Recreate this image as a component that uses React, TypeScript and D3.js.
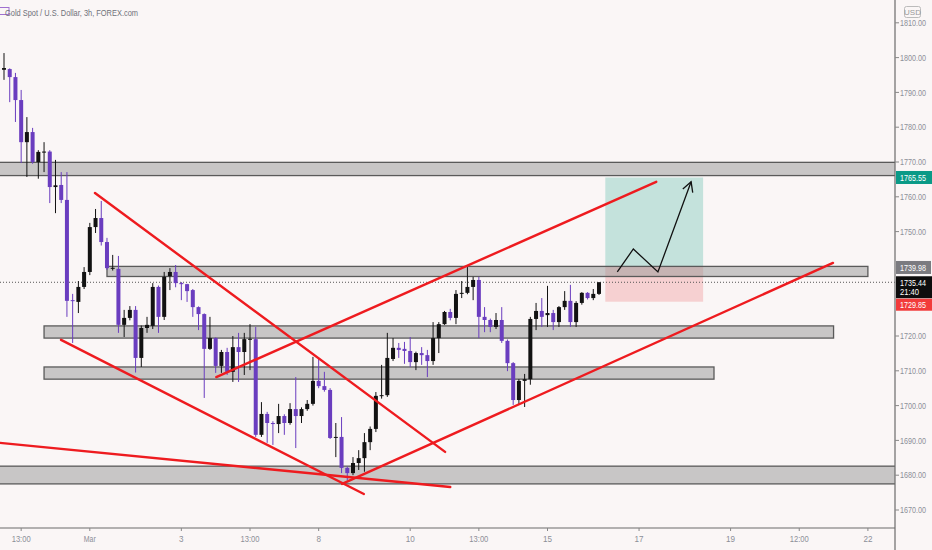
import React from "react";
import * as d3 from "d3";

const W = 932;
const H = 550;

const opens = [1796.5,1796.7,1794.4,1787.8,1775.7,1778.6,1770.0,1772.7,1773.0,1762.8,1763.4,1759.1,1730.3,1729.8,1734.1,1738.4,1751.3,1753.9,1747.0,1739.3,1739.3,1723.2,1725.2,1727.5,1713.7,1722.3,1722.9,1734.1,1725.5,1737.2,1738.4,1735.2,1734.9,1733.2,1728.3,1726.3,1716.3,1719.4,1711.4,1715.4,1709.7,1716.8,1715.4,1719.0,1719.1,1691.6,1697.6,1695.0,1694.7,1697.0,1695.0,1699.0,1697.0,1699.0,1700.5,1707.1,1705.6,1704.5,1690.8,1691.0,1682.1,1680.6,1683.5,1684.9,1689.5,1693.3,1702.8,1703.0,1713.4,1716.6,1716.3,1715.7,1712.5,1715.1,1714.5,1712.8,1719.4,1723.4,1726.9,1725.2,1732.1,1732.4,1734.1,1736.1,1725.5,1724.6,1722.6,1724.6,1718.6,1712.2,1701.6,1707.1,1707.6,1724.9,1727.2,1726.0,1726.6,1724.0,1728.3,1730.1,1724.0,1729.5,1732.4,1730.9,1732.1];
const highs = [1801.3,1796.9,1795.6,1790.7,1782.9,1779.8,1773.4,1775.7,1773.4,1770.6,1767.1,1767.1,1732.1,1735.8,1739.8,1752.5,1756.5,1758.8,1748.2,1743.3,1743.0,1727.5,1728.6,1728.6,1723.0,1725.5,1735.2,1734.5,1738.4,1739.5,1740.4,1735.5,1735.0,1733.5,1728.5,1726.5,1725.5,1719.6,1716.0,1716.6,1720.0,1720.9,1720.9,1723.4,1722.6,1701.0,1698.2,1695.5,1700.5,1697.5,1700.7,1708.2,1699.5,1701.6,1714.0,1713.7,1709.7,1705.0,1695.0,1696.7,1682.5,1685.2,1687.2,1692.1,1694.0,1703.9,1711.7,1720.9,1719.4,1718.0,1718.3,1719.7,1715.5,1716.8,1716.0,1724.0,1724.0,1727.2,1727.8,1733.2,1735.8,1739.8,1737.0,1737.0,1728.3,1725.0,1726.6,1728.3,1719.0,1712.5,1707.6,1709.1,1725.5,1729.5,1730.9,1734.4,1727.5,1728.6,1732.9,1734.7,1730.0,1732.6,1732.6,1733.5,1735.5];
const lows = [1793.6,1787.2,1781.5,1769.7,1765.7,1769.5,1765.2,1767.1,1758.2,1755.3,1758.2,1725.5,1718.0,1726.6,1733.5,1737.5,1749.6,1746.0,1739.0,1738.8,1720.9,1719.7,1724.5,1709.5,1711.1,1720.9,1722.0,1720.9,1724.6,1733.2,1734.0,1730.3,1729.8,1725.5,1721.7,1702.2,1716.0,1709.4,1709.4,1708.8,1706.8,1706.8,1708.8,1710.2,1691.0,1691.0,1689.3,1688.7,1692.1,1691.6,1694.5,1687.8,1695.0,1698.5,1700.0,1705.0,1704.0,1690.4,1685.2,1680.6,1678.6,1680.0,1681.5,1681.0,1687.2,1692.4,1702.0,1702.5,1712.8,1713.7,1712.0,1711.1,1710.2,1711.7,1708.2,1711.7,1715.1,1723.2,1724.5,1723.4,1730.9,1732.0,1730.3,1719.4,1721.1,1721.1,1722.0,1718.0,1709.9,1700.2,1700.2,1699.6,1706.0,1721.7,1722.6,1722.6,1721.7,1722.6,1727.5,1722.6,1722.6,1729.0,1730.5,1730.3,1731.8];
const closes = [1797.0,1794.4,1787.8,1775.7,1778.6,1770.0,1772.9,1773.0,1762.8,1763.3,1759.1,1730.1,1730.1,1734.1,1738.4,1751.3,1753.9,1747.0,1739.5,1739.6,1723.2,1725.2,1727.5,1713.7,1722.3,1723.2,1734.1,1725.5,1737.0,1738.4,1735.2,1734.9,1732.9,1728.3,1726.3,1716.3,1719.4,1711.4,1715.4,1709.7,1716.8,1715.4,1719.1,1719.2,1691.6,1697.6,1695.0,1694.7,1697.0,1695.0,1699.0,1697.0,1699.0,1700.5,1707.1,1705.6,1704.5,1690.7,1691.0,1682.1,1680.6,1683.5,1684.9,1689.5,1693.3,1702.8,1703.0,1713.7,1716.6,1716.0,1715.7,1712.5,1715.1,1714.5,1712.8,1719.4,1723.4,1726.9,1725.2,1732.1,1732.4,1734.1,1736.1,1725.5,1724.6,1722.6,1724.6,1718.6,1712.2,1701.6,1707.1,1707.6,1724.9,1727.2,1725.5,1726.6,1724.0,1728.3,1730.1,1724.0,1729.5,1732.4,1730.9,1732.1,1735.44];

const priceTicks = [1810, 1800, 1790, 1780, 1770, 1760, 1750, 1720, 1710, 1700, 1690, 1680, 1670];
const timeTickIndex = [3, 15, 31, 43, 55, 71, 83, 95, 111, 127, 139, 151];
const timeTickLabels = ["13:00", "Mar", "3", "13:00", "8", "10", "13:00", "15", "17", "19", "12:00", "22"];

// zones: [startIndex, endIndex, topPrice, bottomPrice]
const zones: [number, number, number, number][] = [
  [-2, 160, 1769.9, 1766.1],
  [18, 151, 1740.0, 1737.1],
  [7, 145, 1722.9, 1719.4],
  [7, 124.1, 1711.1, 1707.6],
  [-2, 160, 1682.6, 1677.5],
];

// trend lines: [i1, p1, i2, p2]
const trendLines: [number, number, number, number][] = [
  [15.9, 1761.1, 77.1, 1686.7],
  [9.97, 1718.9, 62.9, 1674.6],
  [-0.7, 1689.3, 78.0, 1676.6],
  [37.1, 1708.2, 114.0, 1764.3],
  [59.1, 1677.5, 144.9, 1741.0],
];

const posStart = 105.1;
const posEnd = 122.2;
const targetPrice = 1765.55;
const entryPrice = 1739.98;
const stopPrice = 1729.85;
const lastPrice = 1735.44;

const arrowIdx = [107.2, 110.0, 114.3, 120.1];
const arrowPrice = [1738.4, 1745.0, 1738.4, 1764.3];

const PLOT_R = 895;
const PLOT_B = 528;

const x = d3.scaleLinear().domain([0, 104]).range([4, 599]);
const y = d3.scaleLinear().domain([1680, 1770]).range([475.2, 162]);

const PURPLE = "#6a3dbf";
const BLACK = "#121212";
const RED = "#ee1b1f";
const FONT = "'Liberation Sans', Arial, sans-serif";

export default function App() {
  const line = d3.line<[number, number]>().x((d) => x(d[0])).y((d) => y(d[1]));
  const arrowPts: [number, number][] = arrowIdx.map((v, k) => [v, arrowPrice[k]]);
  const n = arrowPts.length;
  const tx = x(arrowPts[n - 1][0]);
  const ty = y(arrowPts[n - 1][1]);
  const ang = Math.atan2(ty - y(arrowPts[n - 2][1]), tx - x(arrowPts[n - 2][0]));
  const ah = 11;
  const a1 = [tx - ah * Math.cos(ang - 0.5), ty - ah * Math.sin(ang - 0.5)];
  const a2 = [tx - ah * Math.cos(ang + 0.5), ty - ah * Math.sin(ang + 0.5)];

  const bw = 4;
  return (
    <svg width={W} height={H} style={{ position: "absolute", left: 0, top: 0, background: "#faf6f6" }}>
      <defs>
        <clipPath id="plot">
          <rect x={0} y={0} width={PLOT_R} height={PLOT_B} />
        </clipPath>
      </defs>
      <rect x={0} y={0} width={W} height={H} fill="#faf6f6" />
      <g clipPath="url(#plot)">
        {/* position box */}
        <rect x={x(posStart)} y={y(targetPrice)} width={x(posEnd) - x(posStart)} height={y(entryPrice) - y(targetPrice)} fill="#c4e2dc" />
        <rect x={x(posStart)} y={y(entryPrice)} width={x(posEnd) - x(posStart)} height={y(stopPrice) - y(entryPrice)} fill="#f6d0d1" />
        {/* zones */}
        {zones.map((z, k) => (
          <rect key={k} x={x(z[0])} y={y(z[2])} width={x(z[1]) - x(z[0])} height={y(z[3]) - y(z[2])}
            fill="rgba(150,150,150,0.5)" stroke="#5a5a5a" strokeWidth={1.3} />
        ))}
        {/* last price dotted line */}
        <line x1={0} x2={PLOT_R} y1={y(lastPrice)} y2={y(lastPrice)} stroke="#555" strokeWidth={1} strokeDasharray="1,2" />
        {/* candles */}
        {opens.map((o, i) => {
          const c = closes[i];
          const up = c >= o;
          const col = up ? BLACK : PURPLE;
          const cx = x(i);
          const top = y(Math.max(o, c));
          const bot = y(Math.min(o, c));
          return (
            <g key={i}>
              <line x1={cx} x2={cx} y1={y(highs[i])} y2={y(lows[i])} stroke={col} strokeWidth={1} />
              <rect x={cx - bw / 2} y={top} width={bw} height={Math.max(1, bot - top)} fill={col} />
            </g>
          );
        })}
        {/* trend lines */}
        {trendLines.map((t, k) => (
          <line key={k} x1={x(t[0])} y1={y(t[1])} x2={x(t[2])} y2={y(t[3])} stroke={RED} strokeWidth={2.4} strokeLinecap="round" />
        ))}
        {/* arrow path */}
        <path d={line(arrowPts) || ""} fill="none" stroke="#111" strokeWidth={1.3} />
        <path d={`M${a1[0]},${a1[1]}L${tx},${ty}L${a2[0]},${a2[1]}`} fill="none" stroke="#111" strokeWidth={1.3} />
      </g>

      {/* axes */}
      <line x1={PLOT_R} x2={PLOT_R} y1={0} y2={H} stroke="#6b6b6b" strokeWidth={1.2} />
      <line x1={0} x2={PLOT_R} y1={PLOT_B} y2={PLOT_B} stroke="#6b6b6b" strokeWidth={1.2} />

      {priceTicks.map((p) => (
        <g key={p}>
          <line x1={PLOT_R} x2={PLOT_R + 4} y1={y(p)} y2={y(p)} stroke="#888" />
          <text x={900} y={y(p) + 3.2} fontSize={9} fill="#8c8f98" fontFamily={FONT} textLength={26} lengthAdjust="spacingAndGlyphs">
            {p.toFixed(2)}
          </text>
        </g>
      ))}

      {timeTickIndex.map((ti, k) => (
        <g key={k}>
          <line x1={x(ti)} x2={x(ti)} y1={PLOT_B} y2={PLOT_B + 3} stroke="#888" />
          <text x={x(ti)} y={542} fontSize={9} fill="#8c8f98" fontFamily={FONT} textAnchor="middle"
            textLength={timeTickLabels[k].length > 2 ? (timeTickLabels[k].length === 3 ? 12 : 19) : timeTickLabels[k].length * 4.5}
            lengthAdjust="spacingAndGlyphs">
            {timeTickLabels[k]}
          </text>
        </g>
      ))}

      {/* USD label */}
      <rect x={904.5} y={6.5} width={16} height={11} fill="none" stroke="#bbb" rx={2} />
      <text x={912.5} y={15} fontSize={8} fill="#999" fontFamily={FONT} textAnchor="middle">USD</text>

      {/* price labels */}
      <rect x={PLOT_R + 1} y={y(targetPrice) - 6.5} width={W - PLOT_R} height={13} fill="#0a9a87" />
      <text x={900} y={y(targetPrice) + 3.3} fontSize={9} fill="#fff" fontFamily={FONT} textLength={26} lengthAdjust="spacingAndGlyphs">{targetPrice.toFixed(2)}</text>

      <rect x={PLOT_R + 1} y={y(entryPrice) - 5.5} width={W - PLOT_R - 2} height={13} fill="#7b7b80" />
      <text x={900} y={y(entryPrice) + 4.3} fontSize={9} fill="#fff" fontFamily={FONT} textLength={26} lengthAdjust="spacingAndGlyphs">{entryPrice.toFixed(2)}</text>

      <rect x={PLOT_R + 1} y={y(lastPrice) - 6} width={W - PLOT_R} height={22} fill="#0d0d0d" />
      <text x={900} y={y(lastPrice) + 3.3} fontSize={9} fill="#fff" fontFamily={FONT} textLength={26} lengthAdjust="spacingAndGlyphs">{lastPrice.toFixed(2)}</text>
      <text x={900} y={y(lastPrice) + 13} fontSize={9} fill="#fff" fontFamily={FONT} textLength={19} lengthAdjust="spacingAndGlyphs">21:40</text>

      <rect x={PLOT_R + 1} y={y(stopPrice) - 3} width={W - PLOT_R} height={12} fill="#f23b3b" />
      <text x={900} y={y(stopPrice) + 6} fontSize={9} fill="#fff" fontFamily={FONT} textLength={26} lengthAdjust="spacingAndGlyphs">{stopPrice.toFixed(2)}</text>

      {/* title */}
      <rect x={-1} y={7.5} width={10} height={7} fill="none" stroke="#a070d0" strokeWidth={1} />
      <text x={5} y={15.5} fontSize={9.5} fill="#6f7179" fontFamily={FONT} textLength={133} lengthAdjust="spacingAndGlyphs">
        Gold Spot / U.S. Dollar, 3h, FOREX.com
      </text>
    </svg>
  );
}
